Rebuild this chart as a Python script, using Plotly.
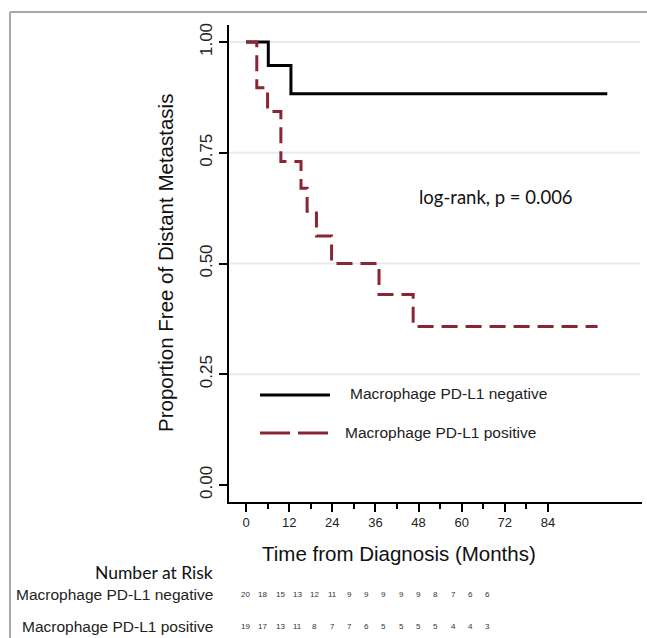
import plotly.graph_objects as go

# ---------------- data ----------------
neg_time = [0, 6.2, 12.5, 100.5]
neg_surv = [1.0, 0.947, 0.883, 0.883]
pos_time = [0, 3.0, 6.0, 9.7, 15.3, 17.0, 19.6, 23.8, 37.0, 46.5, 97.8]
pos_surv = [1.0, 0.897, 0.843, 0.730, 0.670, 0.618, 0.562, 0.500, 0.430, 0.358, 0.358]
x_ticks = [0, 12, 24, 36, 48, 60, 72, 84]
x_minor = [6, 18, 30, 42, 54, 66, 78]
y_ticks = [0, 0.25, 0.5, 0.75, 1.0]
y_tick_labels = ["0.00", "0.25", "0.50", "0.75", "1.00"]
grid_levels = [0.25, 0.5, 0.75, 1.0]
risk_neg = [20, 18, 15, 13, 12, 11, 9, 9, 9, 9, 9, 8, 7, 6, 6]
risk_pos = [19, 17, 13, 11, 8, 7, 7, 6, 5, 5, 5, 5, 4, 4, 3]
group_labels = ["Macrophage PD-L1 negative", "Macrophage PD-L1 positive"]
annot_text = "log-rank, p = 0.006"
x_title = "Time from Diagnosis (Months)"
y_title = "Proportion Free of Distant Metastasis"
risk_title = "Number at Risk"

# ---------------- layout geometry ----------------
W, H = 647, 638
PLOT_X0, PLOT_X1, PLOT_Y0, PLOT_Y1 = 229, 642, 25, 502   # in pixels
L, T = PLOT_X0, PLOT_Y0
R = W - PLOT_X1
B = H - PLOT_Y1
PW, PH = W - L - R, H - T - B
# x range: 0 months at 246px, 3.595 px per month
XPM = 3.595
x_range = [(PLOT_X0 - 246) / XPM, (PLOT_X1 - 246) / XPM]


def px(xpix):
    return (xpix - L) / PW


def py(ypix):
    return (H - B - ypix) / PH


RED = "#8a2633"
FONT = "Liberation Sans, Arial, sans-serif"
CAL = "Lato, Open Sans, sans-serif"

fig = go.Figure()
fig.add_trace(go.Scatter(x=neg_time, y=neg_surv, mode="lines", line_shape="hv",
                         line=dict(color="black", width=3), name=group_labels[0],
                         showlegend=False))
fig.add_trace(go.Scatter(x=pos_time, y=pos_surv, mode="lines", line_shape="hv",
                         line=dict(color=RED, width=3, dash="16px,8px"), name=group_labels[1],
                         showlegend=False))

shapes = []
for g in grid_levels:
    shapes.append(dict(type="line", xref="paper", yref="y", x0=0, x1=px(640), y0=g, y1=g,
                       line=dict(color="#e2edf0", width=2), layer="below"))
# border of the original figure frame
shapes.append(dict(type="line", xref="paper", yref="paper", x0=px(10), x1=px(660),
                   y0=py(12), y1=py(12), line=dict(color="#a8a8a8", width=2)))
shapes.append(dict(type="line", xref="paper", yref="paper", x0=px(10), x1=px(10),
                   y0=py(12), y1=py(660), line=dict(color="#a8a8a8", width=2)))
# legend samples
shapes.append(dict(type="line", xref="paper", yref="paper", x0=px(260), x1=px(330),
                   y0=py(395), y1=py(395), line=dict(color="black", width=3)))
shapes.append(dict(type="line", xref="paper", yref="paper", x0=px(260), x1=px(328),
                   y0=py(433), y1=py(433), line=dict(color=RED, width=3, dash="30px,8px")))

LAB = 15.5
ann = []
ann.append(dict(text=group_labels[0], x=px(348), y=py(393), xref="paper", yref="paper",
                xanchor="left", yanchor="middle", showarrow=False,
                font=dict(family=FONT, size=LAB, color="#222")))
ann.append(dict(text=group_labels[1], x=px(343), y=py(432), xref="paper", yref="paper",
                xanchor="left", yanchor="middle", showarrow=False,
                font=dict(family=FONT, size=LAB, color="#222")))
ann.append(dict(text=annot_text, x=px(496), y=py(197), xref="paper", yref="paper",
                xanchor="center", yanchor="middle", showarrow=False,
                font=dict(family=CAL, size=18.5, color="#111")))
ann.append(dict(text=x_title, x=px(399), y=py(553), xref="paper", yref="paper",
                xanchor="center", yanchor="middle", showarrow=False,
                font=dict(family=FONT, size=20.5, color="#111")))
ann.append(dict(text=y_title, x=px(165), y=py(263), xref="paper", yref="paper",
                xanchor="center", yanchor="middle", showarrow=False, textangle=-90,
                font=dict(family=FONT, size=20.5, color="#111")))
ann.append(dict(text=risk_title, x=px(215), y=py(572), xref="paper", yref="paper",
                xanchor="right", yanchor="middle", showarrow=False,
                font=dict(family=CAL, size=17.5, color="#111")))
for lab, ypix in zip(group_labels, [594, 626]):
    ann.append(dict(text=lab, x=px(215), y=py(ypix), xref="paper", yref="paper",
                    xanchor="right", yanchor="middle", showarrow=False,
                    font=dict(family=FONT, size=LAB, color="#222")))
for row, ypix in zip([risk_neg, risk_pos], [594, 626]):
    for i, v in enumerate(row):
        ann.append(dict(text=str(v), x=px(245.5 + i * 17.3), y=py(ypix), xref="paper",
                        yref="paper", xanchor="center", yanchor="middle", showarrow=False,
                        font=dict(family=FONT, size=8, color="#333")))

fig.update_layout(
    width=W, height=H, margin=dict(l=L, r=R, t=T, b=B, pad=0),
    paper_bgcolor="white", plot_bgcolor="white", showlegend=False,
    shapes=shapes, annotations=ann,
    xaxis=dict(range=x_range, tickmode="array", tickvals=x_ticks,
               ticks="outside", ticklen=8, tickwidth=1.5, tickcolor="black",
               showline=True, linecolor="black", linewidth=1.5, showgrid=False,
               zeroline=False, tickfont=dict(family=FONT, size=13, color="#222"),
               minor=dict(tickmode="array", tickvals=x_minor, ticks="outside", ticklen=5,
                          tickwidth=1.5, tickcolor="black", showgrid=False)),
    yaxis=dict(range=[-0.0384, 1.0384], tickmode="array", tickvals=y_ticks,
               ticktext=y_tick_labels, tickangle=-90, ticks="outside", ticklen=8,
               tickwidth=1.5, tickcolor="black", showline=True, linecolor="black",
               linewidth=1.5, showgrid=False, zeroline=False,
               tickfont=dict(family=FONT, size=17, color="#222")),
)

fig.write_html("out.html",
               config={"displayModeBar": False},
               post_script="document.body.style.margin='0';"
                           "document.body.style.overflow='hidden';"
                           "document.documentElement.style.overflow='hidden';")
